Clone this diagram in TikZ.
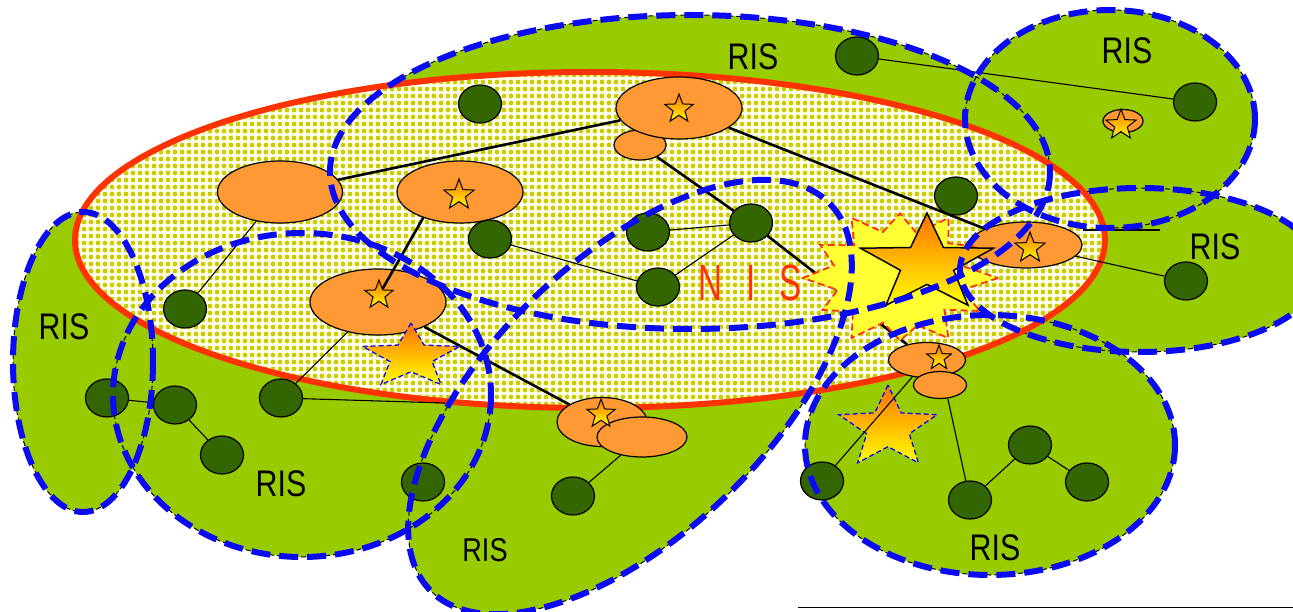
\documentclass[tikz,border=0pt]{standalone}
\usepackage{fontspec}
\newfontfamily\risfont[FakeStretch=0.82]{Liberation Sans}
\newfontfamily\nisfont[FakeStretch=0.65]{Liberation Sans}
\usetikzlibrary{shapes.geometric,patterns.meta}
\pgfdeclarelayer{bg}
\pgfdeclarelayer{lines}
\pgfdeclarelayer{boom}
\pgfdeclarelayer{top}
\pgfsetlayers{bg,lines,main,boom,top}
\definecolor{risgreen}{HTML}{99CC00}
\definecolor{nodegreen}{HTML}{336600}
\definecolor{gworange}{HTML}{FF9933}
\definecolor{nisred}{HTML}{FF3300}
\definecolor{risblue}{HTML}{0A0AF5}
\definecolor{dotyellow}{HTML}{CCCC00}
\definecolor{dotback}{HTML}{FFFFF0}
\definecolor{starorange}{HTML}{FF7000}
\definecolor{staryellow}{HTML}{FFFF00}
\definecolor{boomyellow}{HTML}{FFFF33}
\def\RISlist{83/362/70/150/0,302/395/189/162/0,630/397/278/138/44,990/445/185/130/0,1140/270/180/82/0,1110/119/145/109/0,690/172/360/157/0}
\begin{document}
\begin{tikzpicture}[x=1pt,y=-1pt,
  risline/.style={draw=black, line width=1pt, dash pattern=on 5pt off 3pt},
  risdash/.style={draw=risblue, line width=6pt, dash pattern=on 19pt off 9pt},
  host/.style={ellipse, draw=black, line width=1.2pt, fill=nodegreen, minimum width=43pt, minimum height=38pt, inner sep=0pt},
  gw/.style={ellipse, draw=black, line width=1.2pt, fill=gworange, inner sep=0pt},
  sstar/.style={star, star points=5, star point ratio=2.4, inner sep=0pt, draw=black, line width=1pt, top color=starorange, bottom color=staryellow, minimum size=#1},
  mstar/.style={star, star points=5, star point ratio=2.3, inner sep=0pt, draw=risblue, line width=1.3pt, dash pattern=on 5pt off 3pt, top color=starorange, bottom color=staryellow},
  bstar/.style={star, star points=5, star point ratio=2.5, inner sep=0pt, draw=black, line width=1.5pt, top color=starorange, bottom color=staryellow},
  trunk/.style={line width=2.6pt},
  link/.style={line width=1.1pt},
  rislabel/.style={font=\risfont\fontsize{37}{37}\selectfont, inner sep=0pt}
]
\useasboundingbox (0,0) rectangle (1293,612);

% ---------- regions ----------
\begin{pgfonlayer}{bg}
  \foreach \cx/\cy/\rx/\ry/\an in \RISlist {
    \fill[risgreen, rotate around={\an:(\cx,\cy)}] (\cx,\cy) ellipse [x radius=\rx, y radius=\ry];
  }
  \foreach \cx/\cy/\rx/\ry/\an in \RISlist {
    \draw[risline, rotate around={\an:(\cx,\cy)}] (\cx,\cy) ellipse [x radius=\rx, y radius=\ry];
  }
  \path[preaction={fill=dotback}, pattern={Dots[distance=6.5pt, radius=2.6pt]}, pattern color=dotyellow]
    (590,240) ellipse [x radius=515, y radius=168];
  \draw[nisred, line width=6pt] (590,240) ellipse [x radius=515, y radius=168];
\end{pgfonlayer}

% ---------- hosts ----------
\node[host] (N1) at (480,104) {};
\node[host] (N2) at (857,56) {};
\node[host] (N3) at (1195,102) {};
\node[host] (N4) at (956,196) {};
\node[host] (N5) at (490,239) {};
\node[host] (N6) at (648,232) {};
\node[host] (N7) at (751,223) {};
\node[host] (N8) at (658,287) {};
\node[host] (N9) at (185,309) {};
\node[host] (N10) at (107,398) {};
\node[host] (N11) at (175,405) {};
\node[host] (N12) at (222,455) {};
\node[host] (N13) at (281,398) {};
\node[host] (N14) at (423,482) {};
\node[host] (N15) at (573,496) {};
\node[host] (N16) at (822,481) {};
\node[host] (N17) at (970,500) {};
\node[host] (N18) at (1030,445) {};
\node[host] (N19) at (1087,482) {};
\node[host] (N20) at (1186,281) {};

% ---------- gateways ----------
\node[gw, minimum width=125pt, minimum height=62pt] (O1) at (280,192) {};
\node[gw, minimum width=126pt, minimum height=62pt] (O2) at (460,192) {};
\node[gw, minimum width=52pt, minimum height=30pt] (O3b) at (640,145) {};
\node[gw, minimum width=126pt, minimum height=62pt] (O3) at (679,108) {};
\node[gw, minimum width=136pt, minimum height=66pt] (O4) at (378,302) {};
\node[gw, minimum width=112pt, minimum height=46pt] (O5) at (1026,245) {};
\node[gw, minimum width=90pt, minimum height=49pt] (O6) at (602,422) {};
\node[gw, minimum width=90pt, minimum height=40pt] (O6b) at (642,437) {};
\node[gw, minimum width=77pt, minimum height=35pt] (O7) at (927,360) {};
\node[gw, minimum width=53pt, minimum height=27pt] (O7b) at (940,385) {};
\node[gw, minimum width=40pt, minimum height=23pt] (O8) at (1123,121) {};

% ---------- small stars ----------
\node[sstar=32pt] (st2) at (459,195) {};
\node[sstar=30pt] (st3) at (679,109) {};
\node[sstar=30pt] (st4) at (379,295) {};
\node[sstar=32pt] (st5) at (1030,248) {};
\node[sstar=30pt] (st6) at (601,414) {};
\node[sstar=26pt] (st7) at (939,358) {};
\node[sstar=32pt] (st8) at (1121,125) {};

% ---------- medium stars ----------
\node[mstar, minimum size=68pt, xscale=1.5, transform shape] (S1) at (411,357) {};
\node[mstar, minimum size=86pt, xscale=1.2, transform shape] (S2) at (888,428) {};

% ---------- connectors ----------
\coordinate (c1) at (445,403);
\coordinate (c2a) at (1083,230);
\coordinate (c2b) at (1160,230);
\begin{pgfonlayer}{lines}
  \draw[trunk] (O1) -- (O3);
  \draw[trunk] (O3b) -- (N7);
  \draw[trunk] (O3) -- (O5);
  \draw[trunk] (N7) -- (O7);
  \draw[trunk] (O4) -- (O6);
  \draw[link] (O1) -- (N9);
  \draw[link] (O4) -- (N13);
  \draw[link] (N13) -- (c1);
  \draw[link] (N5) -- (N8);
  \draw[link] (N6) -- (N7);
  \draw[link] (N8) -- (N7);
  \draw[link] (N10) -- (N11);
  \draw[link] (N11) -- (N12);
  \draw[link] (O6b) -- (N15);
  \draw[link] (O7b.300) -- (N17);
  \draw[link] (N17) -- (N18);
  \draw[link] (N18) -- (N19);
  \draw[link] (c2a) -- (c2b);
  \draw[link] (O5) -- (N20);
  \draw[link] (N2) -- (N3);
\end{pgfonlayer}
\draw[trunk] (O2.215) -- (st4);
\draw[link] (O7) -- (N16);

% ---------- explosion and big star ----------
\begin{pgfonlayer}{boom}
  \draw[fill=boomyellow, draw=nisred, line width=1.8pt, dash pattern=on 7pt off 4pt]
    (998,278) \foreach \a/\f in {15/0.68,30/0.97,45/0.66,60/1.02,75/0.72,90/0.92,105/0.68,120/1.02,135/0.7,150/0.94,165/0.68,180/1.02,195/0.72,210/0.97,225/0.68,240/1.02,255/0.7,270/0.95,285/0.68,300/1.02,315/0.72,330/0.92,345/0.68}
      { -- ({900+95*\f*cos(\a)},{278+68*\f*sin(\a)}) } -- cycle;
  \node[bstar, minimum size=102pt, xscale=1.37, transform shape] (BS) at (927,264) {};
\end{pgfonlayer}

% ---------- blue outlines and labels ----------
\begin{pgfonlayer}{top}
  \foreach \cx/\cy/\rx/\ry/\an in \RISlist {
    \draw[risdash, rotate around={\an:(\cx,\cy)}] (\cx,\cy) ellipse [x radius=\rx, y radius=\ry];
  }
  \node[rislabel] (L1) at (64,327) {RIS};
  \node[rislabel] (L2) at (281,484) {RIS};
  \node[rislabel, font=\risfont\fontsize{33}{33}\selectfont] (L3) at (485,550) {RIS};
  \node[rislabel] (L4) at (995,548) {RIS};
  \node[rislabel] (L5) at (1215,247) {RIS};
  \node[rislabel] (L6) at (1127,51) {RIS};
  \node[rislabel] (L7) at (753,57) {RIS};
  \node[inner sep=0pt, text=nisred, font=\nisfont\fontsize{51}{51}\selectfont] (NIS) at (750,283) {\spaceskip=24pt N I S};
\end{pgfonlayer}

\coordinate (r1) at (798,607);
\coordinate (r2) at (1293,607);
\draw[line width=1pt] (r1) -- (r2);
\end{tikzpicture}
\end{document}
